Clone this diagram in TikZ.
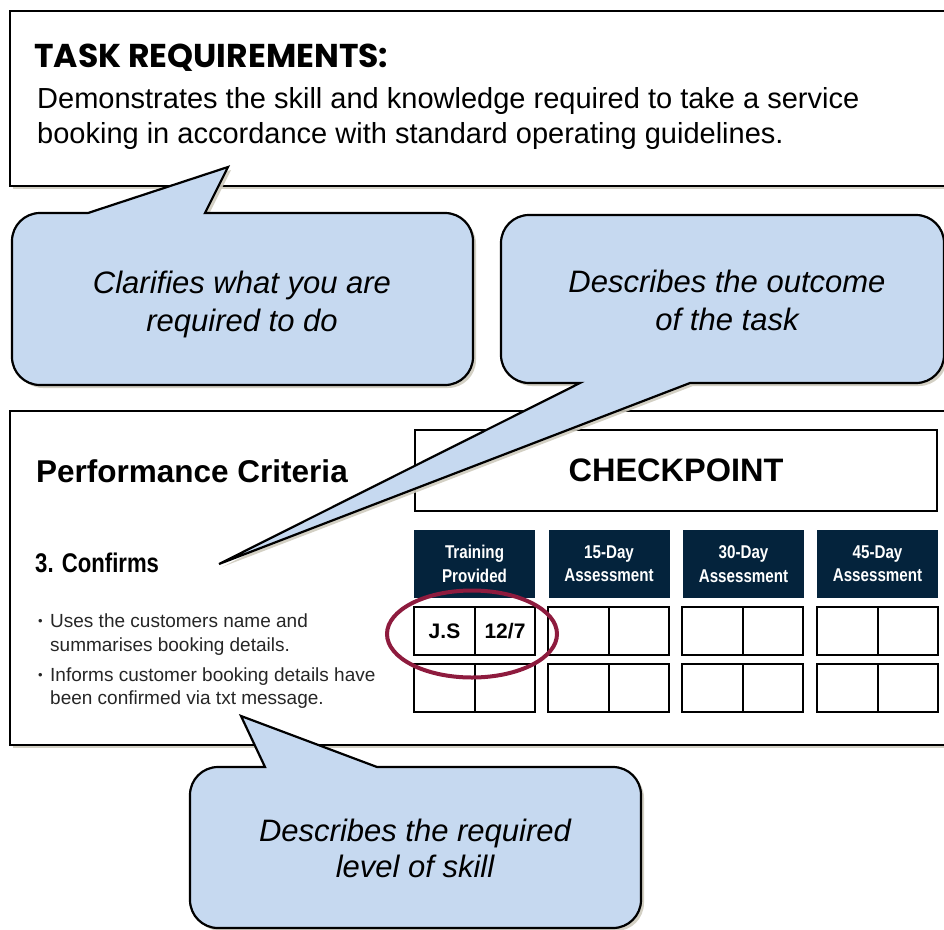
\documentclass[tikz,border=0pt]{standalone}
\usepackage{fontspec}
\setmainfont{Liberation Sans}
\newfontfamily\headfont{Poppins}
\newfontfamily\narrowfont[FakeStretch=0.82]{Liberation Sans}
\usetikzlibrary{shadows,shapes.geometric}
\definecolor{calloutblue}{HTML}{C6D9F0}
\definecolor{navy}{HTML}{04233C}
\definecolor{maroon}{HTML}{8E1B3E}
\definecolor{shadowc}{HTML}{CFCBBE}
\definecolor{bullettext}{HTML}{262626}
\begin{document}
\begin{tikzpicture}[x=1pt,y=-1pt,
  panel/.style={draw=black, line width=1.6pt, fill=white, inner sep=0pt,
    drop shadow={shadow xshift=3pt, shadow yshift=-3pt, fill=shadowc, opacity=0.9}},
  callout/.style={draw=black, line width=2.2pt, fill=calloutblue,
    drop shadow={shadow xshift=3pt, shadow yshift=-3pt, fill=shadowc, opacity=0.9}},
  calltext/.style={anchor=base, inner sep=0pt, font=\itshape\fontsize{31}{37}\selectfont},
  txt/.style={anchor=base west, inner sep=0pt},
  hdr/.style={fill=navy, text=white, minimum width=121pt, minimum height=68pt, inner sep=0pt,
    align=center, font=\narrowfont\bfseries\fontsize{18.5}{23.5}\selectfont},
  cell/.style={draw=black, line width=1.6pt, fill=white, minimum width=60.5pt, minimum height=48pt,
    inner sep=0pt, font=\bfseries\fontsize{21}{25}\selectfont},
  bulletline/.style={anchor=base west, inner sep=0pt, text=bullettext, font=\fontsize{19}{23}\selectfont},
]
\useasboundingbox (0,0) rectangle (944,929);
\fill[white] (0,0) rectangle (944,929);
\begin{scope}
\clip (0,0) rectangle (944,929);

% top panel
\node[panel, minimum width=960pt, minimum height=175pt, anchor=north west] (task) at (9,10) {};
\node[txt, font=\headfont\bfseries\fontsize{33}{38}\selectfont] (taskhead) at (34,67) {TASK REQUIREMENTS:};
\node[txt, font=\fontsize{29}{35}\selectfont] (taskl1) at (37,108) {Demonstrates the skill and knowledge required to take a service};
\node[txt, font=\fontsize{29}{35}\selectfont] (taskl2) at (37,143) {booking in accordance with standard operating guidelines.};

% performance criteria panel
\node[panel, minimum width=960pt, minimum height=334pt, anchor=north west] (pc) at (9,410) {};
\node[txt, font=\bfseries\fontsize{31.5}{37}\selectfont] (pchead) at (36,482) {Performance Criteria};
\node[draw=black, line width=1.5pt, fill=white, minimum width=522pt, minimum height=81pt, inner sep=0pt,
  font=\bfseries\fontsize{32.5}{38}\selectfont] (checkpoint) at (676,470.5) {CHECKPOINT};
\node[txt, font=\narrowfont\bfseries\fontsize{27}{32}\selectfont] (confirms) at (35,572) {3. Confirms};

\node[bulletline, font=\fontsize{13}{16}\selectfont] (b1) at (38,625) {•};
\node[bulletline] (b1l1) at (50,627) {Uses the customers name and};
\node[bulletline] (b1l2) at (50,651) {summarises booking details.};
\node[bulletline, font=\fontsize{13}{16}\selectfont] (b2) at (38,679) {•};
\node[bulletline] (b2l1) at (50,681) {Informs customer booking details have};
\node[bulletline] (b2l2) at (50,704) {been confirmed via txt message.};

% headers
\node[hdr] (h1) at (474.5,564) {Training\\Provided};
\node[hdr] (h2) at (609,563.5) {15-Day\\Assessment};
\node[hdr] (h3) at (743.5,564) {30-Day\\Assessment};
\node[hdr] (h4) at (877.5,563.5) {45-Day\\Assessment};

% cells
\node[cell] (r1g1a) at (444.5,631) {J.S};
\node[cell] (r1g1b) at (505,631) {12/7};
\node[cell] (r2g1a) at (444.5,688) {};
\node[cell] (r2g1b) at (505,688) {};
\foreach \g/\L in {2/548,3/682,4/817}{
  \node[cell] (r1g\g a) at (\L+30.5,631) {};
  \node[cell] (r1g\g b) at (\L+91,631) {};
  \node[cell] (r2g\g a) at (\L+30.5,688) {};
  \node[cell] (r2g\g b) at (\L+91,688) {};
}

% highlight ring
\node[draw=maroon, line width=4pt, ellipse, minimum width=170pt, minimum height=87pt, inner sep=0pt] (ring) at (472,634) {};

% callout 1
\draw[callout] (88,213) -- (228,167) -- (205,213) -- (445,213)
  arc[start angle=270,end angle=360,radius=28] -- (473,357)
  arc[start angle=0,end angle=90,radius=28] -- (40,385)
  arc[start angle=90,end angle=180,radius=28] -- (12,241)
  arc[start angle=180,end angle=270,radius=28] -- cycle;
\node[calltext] (c1l1) at (242,293) {Clarifies what you are};
\node[calltext] (c1l2) at (242,331) {required to do};

% callout 2
\draw[callout] (690,383) -- (219,564) -- (580,383) -- (529,383)
  arc[start angle=90,end angle=180,radius=28] -- (501,243)
  arc[start angle=180,end angle=270,radius=28] -- (916,215)
  arc[start angle=270,end angle=360,radius=28] -- (944,355)
  arc[start angle=0,end angle=90,radius=28] -- cycle;
\node[calltext] (c2l1) at (727,292) {Describes the outcome};
\node[calltext] (c2l2) at (727,330) {of the task};

% callout 3
\draw[callout] (265,767) -- (241,716) -- (377,767) -- (613,767)
  arc[start angle=270,end angle=360,radius=28] -- (641,900)
  arc[start angle=0,end angle=90,radius=28] -- (218,928)
  arc[start angle=90,end angle=180,radius=28] -- (190,795)
  arc[start angle=180,end angle=270,radius=28] -- cycle;
\node[calltext] (c3l1) at (415,841) {Describes the required};
\node[calltext] (c3l2) at (415,877) {level of skill};
\end{scope}
\end{tikzpicture}
\end{document}
